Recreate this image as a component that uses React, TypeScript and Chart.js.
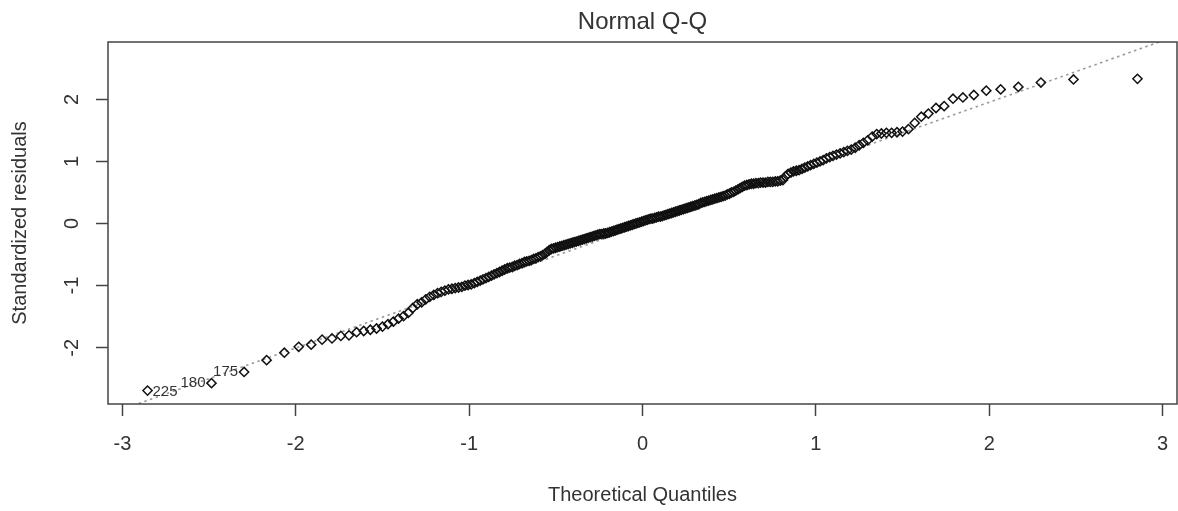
import React, { useEffect, useRef } from 'react';
import { Chart, registerables } from 'chart.js';

Chart.register(...registerables);

const FONT = "'Liberation Sans', Arial, Helvetica, sans-serif";

// Theoretical quantiles (lower half and upper half)
const quantilesLow = [
  -2.855, -2.486, -2.298, -2.168, -2.066, -1.983, -1.911, -1.848, -1.791, -1.740,
  -1.693, -1.649, -1.608, -1.570, -1.534, -1.500, -1.468, -1.437, -1.407, -1.378,
  -1.351, -1.325, -1.299, -1.274, -1.250, -1.227, -1.204, -1.182, -1.161, -1.140,
  -1.119, -1.099, -1.080, -1.061, -1.042, -1.024, -1.006, -0.988, -0.970, -0.953,
  -0.936, -0.920, -0.903, -0.887, -0.871, -0.856, -0.840, -0.825, -0.810, -0.795,
  -0.780, -0.766, -0.751, -0.737, -0.723, -0.709, -0.695, -0.681, -0.668, -0.654,
  -0.641, -0.628, -0.615, -0.602, -0.589, -0.576, -0.563, -0.551, -0.538, -0.526,
  -0.513, -0.501, -0.489, -0.477, -0.465, -0.453, -0.441, -0.429, -0.417, -0.405,
  -0.394, -0.382, -0.370, -0.359, -0.347, -0.336, -0.324, -0.313, -0.302, -0.290,
  -0.279, -0.268, -0.257, -0.246, -0.235, -0.223, -0.212, -0.201, -0.190, -0.179,
  -0.168, -0.157, -0.147, -0.136, -0.125, -0.114, -0.103, -0.092, -0.081, -0.070,
  -0.059, -0.049, -0.038, -0.027, -0.016, -0.005,
];
const quantilesHigh = [
  0.005, 0.016, 0.027, 0.038, 0.049, 0.059, 0.070, 0.081, 0.092, 0.103,
  0.114, 0.125, 0.136, 0.147, 0.157, 0.168, 0.179, 0.190, 0.201, 0.212,
  0.223, 0.235, 0.246, 0.257, 0.268, 0.279, 0.290, 0.302, 0.313, 0.324,
  0.336, 0.347, 0.359, 0.370, 0.382, 0.394, 0.405, 0.417, 0.429, 0.441,
  0.453, 0.465, 0.477, 0.489, 0.501, 0.513, 0.526, 0.538, 0.551, 0.563,
  0.576, 0.589, 0.602, 0.615, 0.628, 0.641, 0.654, 0.668, 0.681, 0.695,
  0.709, 0.723, 0.737, 0.751, 0.766, 0.780, 0.795, 0.810, 0.825, 0.840,
  0.856, 0.871, 0.887, 0.903, 0.920, 0.936, 0.953, 0.970, 0.988, 1.006,
  1.024, 1.042, 1.061, 1.080, 1.099, 1.119, 1.140, 1.161, 1.182, 1.204,
  1.227, 1.250, 1.274, 1.299, 1.325, 1.351, 1.378, 1.407, 1.437, 1.468,
  1.500, 1.534, 1.570, 1.608, 1.649, 1.693, 1.740, 1.791, 1.848, 1.911,
  1.983, 2.066, 2.168, 2.298, 2.486, 2.855,
];

// Standardized residuals (sorted), matching the quantiles above
const residualsLow = [
  -2.69, -2.57, -2.39, -2.20, -2.08, -1.985, -1.95, -1.87, -1.85, -1.81,
  -1.80, -1.75, -1.73, -1.71, -1.69, -1.66, -1.62, -1.58, -1.53, -1.49,
  -1.44, -1.36, -1.30, -1.27, -1.22, -1.18, -1.15, -1.12, -1.10, -1.08,
  -1.06, -1.05, -1.04, -1.03, -1.02, -1.00, -0.99, -0.98, -0.96, -0.94,
  -0.92, -0.90, -0.88, -0.86, -0.84, -0.82, -0.80, -0.78, -0.76, -0.74,
  -0.72, -0.71, -0.70, -0.68, -0.67, -0.65, -0.64, -0.62, -0.61, -0.60,
  -0.59, -0.57, -0.56, -0.54, -0.53, -0.51, -0.49, -0.46, -0.43, -0.41,
  -0.40, -0.39, -0.38, -0.37, -0.36, -0.35, -0.34, -0.33, -0.32, -0.31,
  -0.30, -0.29, -0.28, -0.27, -0.26, -0.25, -0.24, -0.23, -0.22, -0.21,
  -0.20, -0.19, -0.18, -0.17, -0.17, -0.16, -0.16, -0.15, -0.14, -0.13,
  -0.12, -0.11, -0.10, -0.09, -0.08, -0.07, -0.06, -0.05, -0.04, -0.03,
  -0.02, -0.01, 0.00, 0.01, 0.02, 0.03,
];
const residualsHigh = [
  0.04, 0.05, 0.06, 0.07, 0.08, 0.08, 0.09, 0.10, 0.11, 0.11,
  0.12, 0.13, 0.14, 0.15, 0.16, 0.17, 0.18, 0.19, 0.20, 0.21,
  0.22, 0.23, 0.24, 0.25, 0.26, 0.27, 0.28, 0.29, 0.30, 0.31,
  0.33, 0.34, 0.35, 0.36, 0.37, 0.38, 0.39, 0.40, 0.41, 0.42,
  0.43, 0.44, 0.45, 0.47, 0.48, 0.50, 0.51, 0.53, 0.55, 0.57,
  0.59, 0.61, 0.62, 0.63, 0.64, 0.64, 0.65, 0.65, 0.66, 0.66,
  0.66, 0.67, 0.67, 0.67, 0.68, 0.68, 0.69, 0.70, 0.76, 0.80,
  0.82, 0.84, 0.85, 0.86, 0.88, 0.90, 0.92, 0.94, 0.96, 0.98,
  1.00, 1.02, 1.05, 1.07, 1.09, 1.11, 1.13, 1.15, 1.17, 1.19,
  1.22, 1.26, 1.30, 1.34, 1.40, 1.44, 1.45, 1.46, 1.46, 1.47,
  1.48, 1.52, 1.62, 1.72, 1.77, 1.86, 1.89, 2.01, 2.03, 2.07,
  2.14, 2.16, 2.20, 2.27, 2.32, 2.33,
];

const theoreticalQuantiles = [...quantilesLow, ...quantilesHigh];
const standardizedResiduals = [...residualsLow, ...residualsHigh];

// Reference line (qqline) end points
const qqLineX = [-3.2, 3.2];
const qqLineY = [-3.19, 3.14];

// Labelled extreme observations
const labelIndices = [0, 1, 2];
const labelTexts = ['225', '180', '175'];
const labelSides = ['right', 'left', 'left'];

const xLimits = [-3.083, 3.083];
const yLimits = [-2.906, 2.923];

const boxPlugin = {
  id: 'plotBox',
  afterDatasetsDraw(chart: any) {
    const { ctx, chartArea } = chart;
    const { left, top, right, bottom } = chartArea;
    ctx.save();
    ctx.strokeStyle = '#444';
    ctx.lineWidth = 1.5;
    ctx.strokeRect(left, top, right - left, bottom - top);
    ctx.restore();
  },
};

const pointLabelPlugin = {
  id: 'pointLabels',
  afterDatasetsDraw(chart: any) {
    const { ctx } = chart;
    const xs = chart.scales.x;
    const ys = chart.scales.y;
    ctx.save();
    ctx.font = `15px ${FONT}`;
    ctx.fillStyle = '#333';
    ctx.textBaseline = 'middle';
    labelIndices.forEach((idx, k) => {
      const px = xs.getPixelForValue(theoreticalQuantiles[idx]);
      const py = ys.getPixelForValue(standardizedResiduals[idx]);
      if (labelSides[k] === 'right') {
        ctx.textAlign = 'left';
        ctx.fillText(labelTexts[k], px + 5, py + 1);
      } else {
        ctx.textAlign = 'right';
        ctx.fillText(labelTexts[k], px - 6, py);
      }
    });
    ctx.restore();
  },
};

export default function App() {
  const canvasRef = useRef<HTMLCanvasElement | null>(null);

  useEffect(() => {
    if (!canvasRef.current) return;
    const chart = new Chart(canvasRef.current, {
      type: 'scatter',
      data: {
        datasets: [
          {
            label: 'Residuals',
            data: theoreticalQuantiles.map((x, i) => ({ x, y: standardizedResiduals[i] })),
            pointStyle: 'rectRot',
            pointRadius: 4.6,
            borderColor: '#111',
            borderWidth: 1.5,
            backgroundColor: 'rgba(0,0,0,0)',
            showLine: false,
          } as any,
          {
            label: 'qqline',
            data: qqLineX.map((x, i) => ({ x, y: qqLineY[i] })),
            showLine: true,
            borderColor: '#999',
            borderDash: [2.5, 3.5],
            borderWidth: 1.6,
            pointRadius: 0,
            fill: false,
          } as any,
        ],
      },
      options: {
        animation: false,
        responsive: false,
        layout: { autoPadding: false, padding: { left: 0, right: 1, top: 0, bottom: 0 } },
        plugins: {
          legend: { display: false },
          tooltip: { enabled: false },
          title: {
            display: true,
            fullSize: false,
            text: 'Normal Q-Q',
            color: '#333',
            font: { size: 24, family: FONT, weight: 'normal' as any },
            padding: { top: 7.6, bottom: 5.6 },
          },
        },
        scales: {
          x: {
            type: 'linear',
            min: xLimits[0],
            max: xLimits[1],
            afterFit: (s: any) => {
              s.height = 107;
              s.paddingLeft = 0;
              s.paddingRight = 0;
            },
            border: { display: false },
            grid: {
              drawOnChartArea: false,
              drawTicks: true,
              tickLength: 12,
              tickColor: '#444',
              tickWidth: 1.5,
            },
            ticks: {
              stepSize: 1,
              includeBounds: false,
              padding: 16,
              maxRotation: 0,
              color: '#333',
              font: { size: 20, family: FONT },
            },
            title: {
              display: true,
              text: 'Theoretical Quantiles',
              color: '#333',
              font: { size: 20, family: FONT },
              padding: { top: 0, bottom: 4 },
            },
          },
          y: {
            type: 'linear',
            min: yLimits[0],
            max: yLimits[1],
            afterFit: (s: any) => {
              s.width = 108;
              s.paddingTop = 0;
              s.paddingBottom = 0;
            },
            border: { display: false },
            grid: {
              drawOnChartArea: false,
              drawTicks: true,
              tickLength: 12,
              tickColor: '#444',
              tickWidth: 1.5,
            },
            ticks: {
              stepSize: 1,
              includeBounds: false,
              minRotation: 90,
              maxRotation: 90,
              crossAlign: 'center',
              padding: 15,
              color: '#333',
              font: { size: 20, family: FONT },
            },
            title: {
              display: true,
              text: 'Standardized residuals',
              color: '#333',
              font: { size: 20, family: FONT },
              padding: { top: 8, bottom: 0 },
            },
          },
        },
      } as any,
      plugins: [boxPlugin, pointLabelPlugin],
    });
    return () => chart.destroy();
  }, []);

  return (
    <div style={{ position: 'fixed', left: 0, top: 0, width: 1178, height: 511, background: '#fff' }}>
      <canvas ref={canvasRef} width={1178} height={511} style={{ display: 'block' }} />
    </div>
  );
}
